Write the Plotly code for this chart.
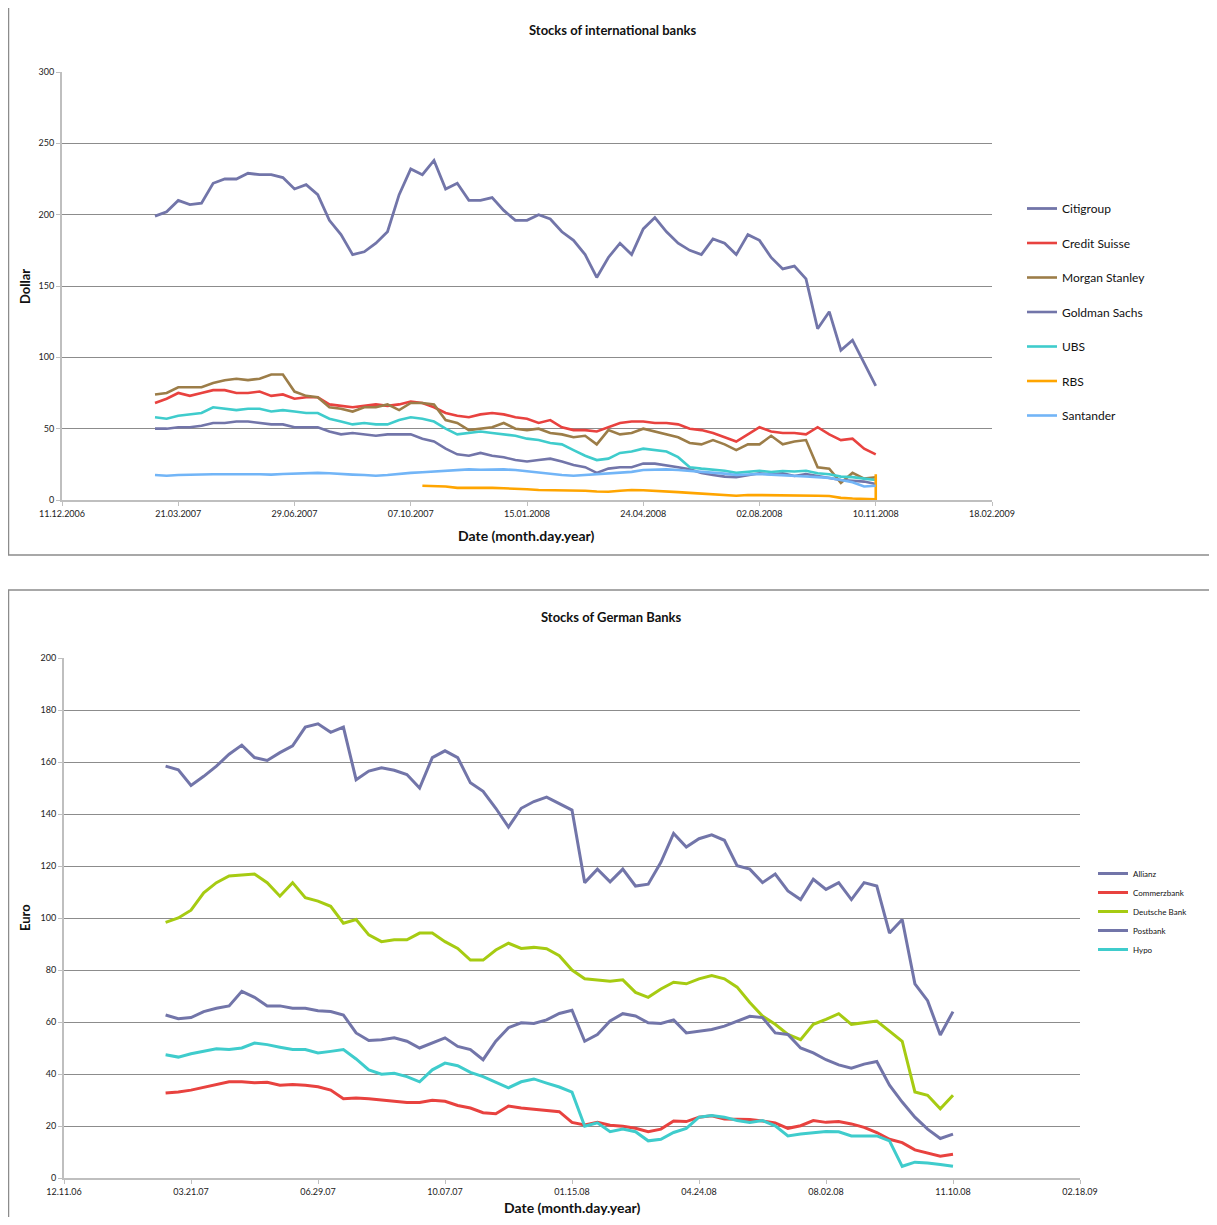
import pandas as pd
import plotly.graph_objects as go

# ---------------- data ----------------
dates = pd.date_range("2007-03-01", periods=63, freq="10D")

citigroup = [199, 202, 210, 207, 208, 222, 225, 225, 229, 228, 228, 226, 218, 221, 214, 196, 186, 172, 174, 180,
             188, 214, 232, 228, 238, 218, 222, 210, 210, 212, 203, 196, 196, 200, 197, 188, 182, 172, 156, 170,
             180, 172, 190, 198, 188, 180, 175, 172, 183, 180, 172, 186, 182, 170, 162, 164, 155, 120, 132, 105,
             112, 96, 80]
credit_suisse = [68, 71, 75, 73, 75, 77, 77, 75, 75, 76, 73, 74, 71, 72, 72, 67, 66, 65, 66, 67,
                 66, 67, 69, 68, 65, 61, 59, 58, 60, 61, 60, 58, 57, 54, 56, 51, 49, 49, 48, 51,
                 54, 55, 55, 54, 54, 53, 50, 49, 47, 44, 41, 46, 51, 48, 47, 47, 46, 51, 46, 42,
                 43, 36, 32]
morgan_stanley = [74, 75, 79, 79, 79, 82, 84, 85, 84, 85, 88, 88, 76, 73, 72, 65, 64, 62, 65, 65,
                  67, 63, 68, 68, 67, 56, 54, 49, 50, 51, 54, 50, 49, 50, 47, 46, 44, 45, 39, 49,
                  46, 47, 50, 48, 46, 44, 40, 39, 42, 39, 35, 39, 39, 45, 39, 41, 42, 23, 22, 12,
                  19, 15, 16]
goldman_sachs = [50, 50, 51, 51, 52, 54, 54, 55, 55, 54, 53, 53, 51, 51, 51, 48, 46, 47, 46, 45,
                 46, 46, 46, 43, 41, 36, 32, 31, 33, 31, 30, 28, 27, 28, 29, 27, 24.5, 23, 19, 22,
                 23, 23, 25.5, 25.5, 24.5, 23, 21.5, 19, 17.5, 16.4, 16, 17.5, 18.7, 18, 18.7, 16.8, 18.2, 16.8, 15.2, 14,
                 13.5, 12.9, 11.2]
ubs = [58, 57, 59, 60, 61, 65, 64, 63, 64, 64, 62, 63, 62, 61, 61, 57, 55, 53, 54, 53,
       53, 56, 58, 57, 55, 50, 46, 47, 48, 47, 46, 45, 43, 42, 40, 39, 35, 31, 28, 29,
       33, 34, 36, 35, 34, 30, 23, 22, 21.5, 20.5, 19, 20, 20.5, 19.6, 20.3, 20, 20.5, 18.7, 18, 16.4,
       16, 15, 14]
rbs = [None] * 23 + [10, 10, 9.5, 8.5, 8.5, 9, 8.5, 8.2, 8, 7.5,
                     7, 7, 7, 6.8, 6.5, 6, 5.8, 6.5, 7, 6.8,
                     6.5, 6.3, 5.5, 5, 4.5, 4, 3.5, 3, 3.5, 3.5,
                     3.5, 3.5, 3.5, 3.2, 3, 2.8, 1.5, 1, 0.6, 0.5, 18]
santander = [17.5, 17, 17.5, 17.8, 17.8, 18, 18, 18.2, 18, 18, 17.8, 18.2, 18.5, 18.8, 19, 18.7, 18, 17.8, 17.5, 17,
             17.5, 18.5, 19, 19.5, 20, 20.5, 21, 21.5, 21.2, 21.5, 21.5, 21, 20, 19.5, 18.5, 17.5, 17, 17.5, 18, 18.2,
             19, 19.7, 21, 21.5, 21.5, 21, 20.5, 19.5, 19, 18.5, 17.5, 18, 18.2, 17.8, 17.5, 17, 16.5, 16, 15.5, 14,
             12.5, 9.5, 10]

allianz = [158.4, 157, 151, 154.5, 158.4, 163, 166.5, 161.7, 160.6, 163.6, 166.2, 173.4, 174.7, 171.4, 173.4,
           153.2, 156.5, 157.8, 156.8, 155.2, 150, 161.7, 164.3, 161.7, 152, 148.7, 142.2, 135, 142.2, 144.8,
           146.5, 144, 141.5, 113.6, 118.8, 113.9, 118.8, 112.3, 113, 121.4, 132.5, 127.3, 130.5, 132, 129.9,
           120.1, 118.8, 113.6, 116.9, 110.4, 107.1, 114.9, 111, 113.6, 107.1, 113.6, 112.3, 94.2, 99.4, 74.7,
           68.2, 55, 64]
commerzbank = [32.7, 33.1, 33.8, 34.9, 36.1, 37, 37, 36.6, 36.8, 35.7, 36, 35.7, 35.1, 33.8, 30.5, 30.8, 30.5,
               30.1, 29.5, 29, 29, 29.9, 29.5, 27.9, 26.9, 25.1, 24.7, 27.7, 26.9, 26.4, 26, 25.5, 21.4, 20.4,
               21.4, 20.3, 19.9, 19.1, 17.8, 18.8, 21.9, 21.7, 23.4, 23.9, 22.7, 22.5, 22.5, 21.9, 21.2, 19.1,
               20.1, 22.1, 21.4, 21.7, 20.8, 19.5, 17.5, 14.9, 13.6, 10.8, 9.7, 8.4, 9.1]
deutsche_bank = [98.3, 100, 103, 109.7, 113.6, 116.2, 116.5, 116.9, 113.6, 108.4, 113.6, 107.8, 106.5, 104.5, 98,
                 99.4, 93.5, 90.9, 91.6, 91.6, 94.2, 94.2, 90.9, 88.3, 83.8, 83.8, 87.7, 90.3, 88.3, 88.7, 88.2,
                 85.5, 80, 76.6, 76.2, 75.7, 76.2, 71.4, 69.5, 72.7, 75.3, 74.7, 76.6, 77.9, 76.6, 73.4, 67.5,
                 62.3, 59.1, 55.2, 53.2, 59.1, 61, 63.2, 59.1, 59.7, 60.4, 56.5, 52.6, 33.1, 31.8, 26.6, 31.8]
postbank = [62.7, 61.3, 61.7, 64, 65.3, 66.2, 71.8, 69.5, 66.2, 66.2, 65.3, 65.3, 64.3, 64, 62.7, 55.8, 52.9,
            53.2, 53.9, 52.6, 50, 51.9, 53.9, 50.6, 49.4, 45.5, 52.6, 57.8, 59.7, 59.4, 60.8, 63.3, 64.5, 52.6,
            55.2, 60.4, 63.2, 62.3, 59.7, 59.4, 60.8, 55.8, 56.5, 57.1, 58.4, 60.4, 62.2, 61.7, 55.8, 55.2, 50,
            48.1, 45.5, 43.5, 42.2, 43.8, 44.8, 35.7, 29.2, 23.4, 18.8, 15.2, 16.9]
hypo = [47.4, 46.5, 47.8, 48.7, 49.7, 49.4, 50, 51.9, 51.3, 50.3, 49.4, 49.4, 48.1, 48.7, 49.4, 45.8, 41.6,
        39.9, 40.3, 39, 37, 41.6, 44.2, 43.2, 40.6, 39, 36.8, 34.7, 37, 38.1, 36.5, 35, 33, 19.9, 21.2, 17.8,
        18.8, 17.8, 14.3, 14.9, 17.5, 19.1, 23.4, 24, 23.4, 22.1, 21.4, 22.1, 20.1, 16.2, 16.9, 17.5, 17.9,
        17.8, 16.2, 16.2, 16.2, 14.3, 4.5, 6.1, 5.8, 5.2, 4.5]

top_tick_dates = ["2006-12-11", "2007-03-21", "2007-06-29", "2007-10-07", "2008-01-15",
                  "2008-04-24", "2008-08-02", "2008-11-10", "2009-02-18"]
top_tick_text = ["11.12.2006", "21.03.2007", "29.06.2007", "07.10.2007", "15.01.2008",
                 "24.04.2008", "02.08.2008", "10.11.2008", "18.02.2009"]
bottom_tick_text = ["12.11.06", "03.21.07", "06.29.07", "10.07.07", "01.15.08",
                    "04.24.08", "08.02.08", "11.10.08", "02.18.09"]

# ---------------- styling ----------------
W, H = 1201, 1209
FONT = "Lato, 'Open Sans', sans-serif"
PURPLE = "#7275A9"
RED = "#E8423F"
BROWN = "#9C7D48"
CYAN = "#3FCCCC"
ORANGE = "#FFA500"
LBLUE = "#72B5F7"
GREEN = "#A6CB12"
GRID = "#8C8C8C"
AXIS = "#BFBFBF"


def fx(p):
    return p / W


def fy(p):
    return 1 - p / H


fig = go.Figure()

top_series = [("Citigroup", citigroup, PURPLE), ("Credit Suisse", credit_suisse, RED),
              ("Morgan Stanley", morgan_stanley, BROWN), ("Goldman Sachs", goldman_sachs, PURPLE),
              ("UBS", ubs, CYAN), ("RBS", rbs, ORANGE), ("Santander", santander, LBLUE)]
for name, vals, color in top_series:
    xs = list(dates)
    if len(vals) > len(xs):
        xs = xs + [xs[-1]] * (len(vals) - len(xs))
    fig.add_trace(go.Scatter(x=xs, y=vals, mode="lines", name=name,
                             line=dict(color=color, width=2.8 if name == "Citigroup" else 2.6),
                             xaxis="x", yaxis="y", legend="legend", legendgroup=name))

bottom_series = [("Allianz", allianz, PURPLE), ("Commerzbank", commerzbank, RED),
                 ("Deutsche Bank", deutsche_bank, GREEN), ("Postbank", postbank, PURPLE),
                 ("Hypo", hypo, CYAN)]
for name, vals, color in bottom_series:
    fig.add_trace(go.Scatter(x=list(dates), y=vals, mode="lines", name=name,
                             line=dict(color=color, width=3),
                             xaxis="x2", yaxis="y2", legend="legend2"))

tick_font = dict(family=FONT, size=9, color="#222222")

xcommon = dict(type="date", tickvals=top_tick_dates, range=["2006-12-11", "2009-02-18"],
               showgrid=False, zeroline=False, showline=True, linecolor=AXIS, linewidth=2,
               ticks="outside", ticklen=4, tickcolor=AXIS, tickwidth=1, tickfont=tick_font,
               automargin=False)
ycommon = dict(showgrid=True, gridcolor=GRID, gridwidth=1, zeroline=False, showline=True,
               linecolor=AXIS, linewidth=2, ticks="outside", ticklen=4, tickcolor=AXIS,
               tickfont=tick_font, automargin=False)

fig.update_layout(
    template="none",
    width=W, height=H, autosize=False,
    margin=dict(l=0, r=0, t=0, b=0, pad=0, autoexpand=False),
    font=dict(family=FONT, color="#111111"),
    paper_bgcolor="white", plot_bgcolor="white",
    xaxis=dict(domain=[fx(54), fx(984)], anchor="y", ticktext=top_tick_text, **xcommon),
    yaxis=dict(domain=[fy(492), fy(64)], anchor="x", range=[0, 300], tickvals=list(range(0, 301, 50)), **ycommon),
    xaxis2=dict(domain=[fx(56), fx(1072)], anchor="y2", ticktext=bottom_tick_text, **xcommon),
    yaxis2=dict(domain=[fy(1170), fy(650)], anchor="x2", range=[0, 200], tickvals=list(range(0, 201, 20)), **ycommon),
    legend=dict(x=fx(1014), y=fy(186), xanchor="left", yanchor="top", traceorder="grouped",
                font=dict(family=FONT, size=12, color="#111111"), tracegroupgap=15.5,
                bgcolor="rgba(0,0,0,0)", borderwidth=0),
    legend2=dict(x=fx(1085), y=fy(851), xanchor="left", yanchor="top", traceorder="normal",
                 font=dict(family=FONT, size=8, color="#111111"), tracegroupgap=0,
                 bgcolor="rgba(0,0,0,0)", borderwidth=0),
    showlegend=True,
    hovermode=False,
)

# chart boxes
fig.add_shape(type="rect", xref="paper", yref="paper", x0=fx(0.5), x1=1.02, y0=fy(547), y1=1.02,
              line=dict(color=GRID, width=1.5), fillcolor="rgba(0,0,0,0)", layer="below")
fig.add_shape(type="rect", xref="paper", yref="paper", x0=fx(0.5), x1=1.02, y0=-0.02, y1=fy(582),
              line=dict(color=GRID, width=1.5), fillcolor="rgba(0,0,0,0)", layer="below")

title_font = dict(family=FONT, size=13, color="#111111")
label_font = dict(family=FONT, size=14, color="#111111")
annots = [
    dict(text="<b>Stocks of international banks</b>", x=fx(604), y=fy(22), font=title_font, textangle=0),
    dict(text="<b>Stocks of German Banks</b>", x=fx(603), y=fy(609), font=title_font, textangle=0),
    dict(text="<b>Date (month.day.year)</b>", x=fx(518), y=fy(527), font=label_font, textangle=0),
    dict(text="<b>Date (month.day.year)</b>", x=fx(564), y=fy(1199), font=label_font, textangle=0),
    dict(text="<b>Dollar</b>", x=fx(17), y=fy(279), font=title_font, textangle=-90),
    dict(text="<b>Euro</b>", x=fx(17), y=fy(910), font=title_font, textangle=-90),
]
for a in annots:
    fig.add_annotation(xref="paper", yref="paper", showarrow=False, xanchor="center", yanchor="middle", **a)

fig.write_html("out.html")
